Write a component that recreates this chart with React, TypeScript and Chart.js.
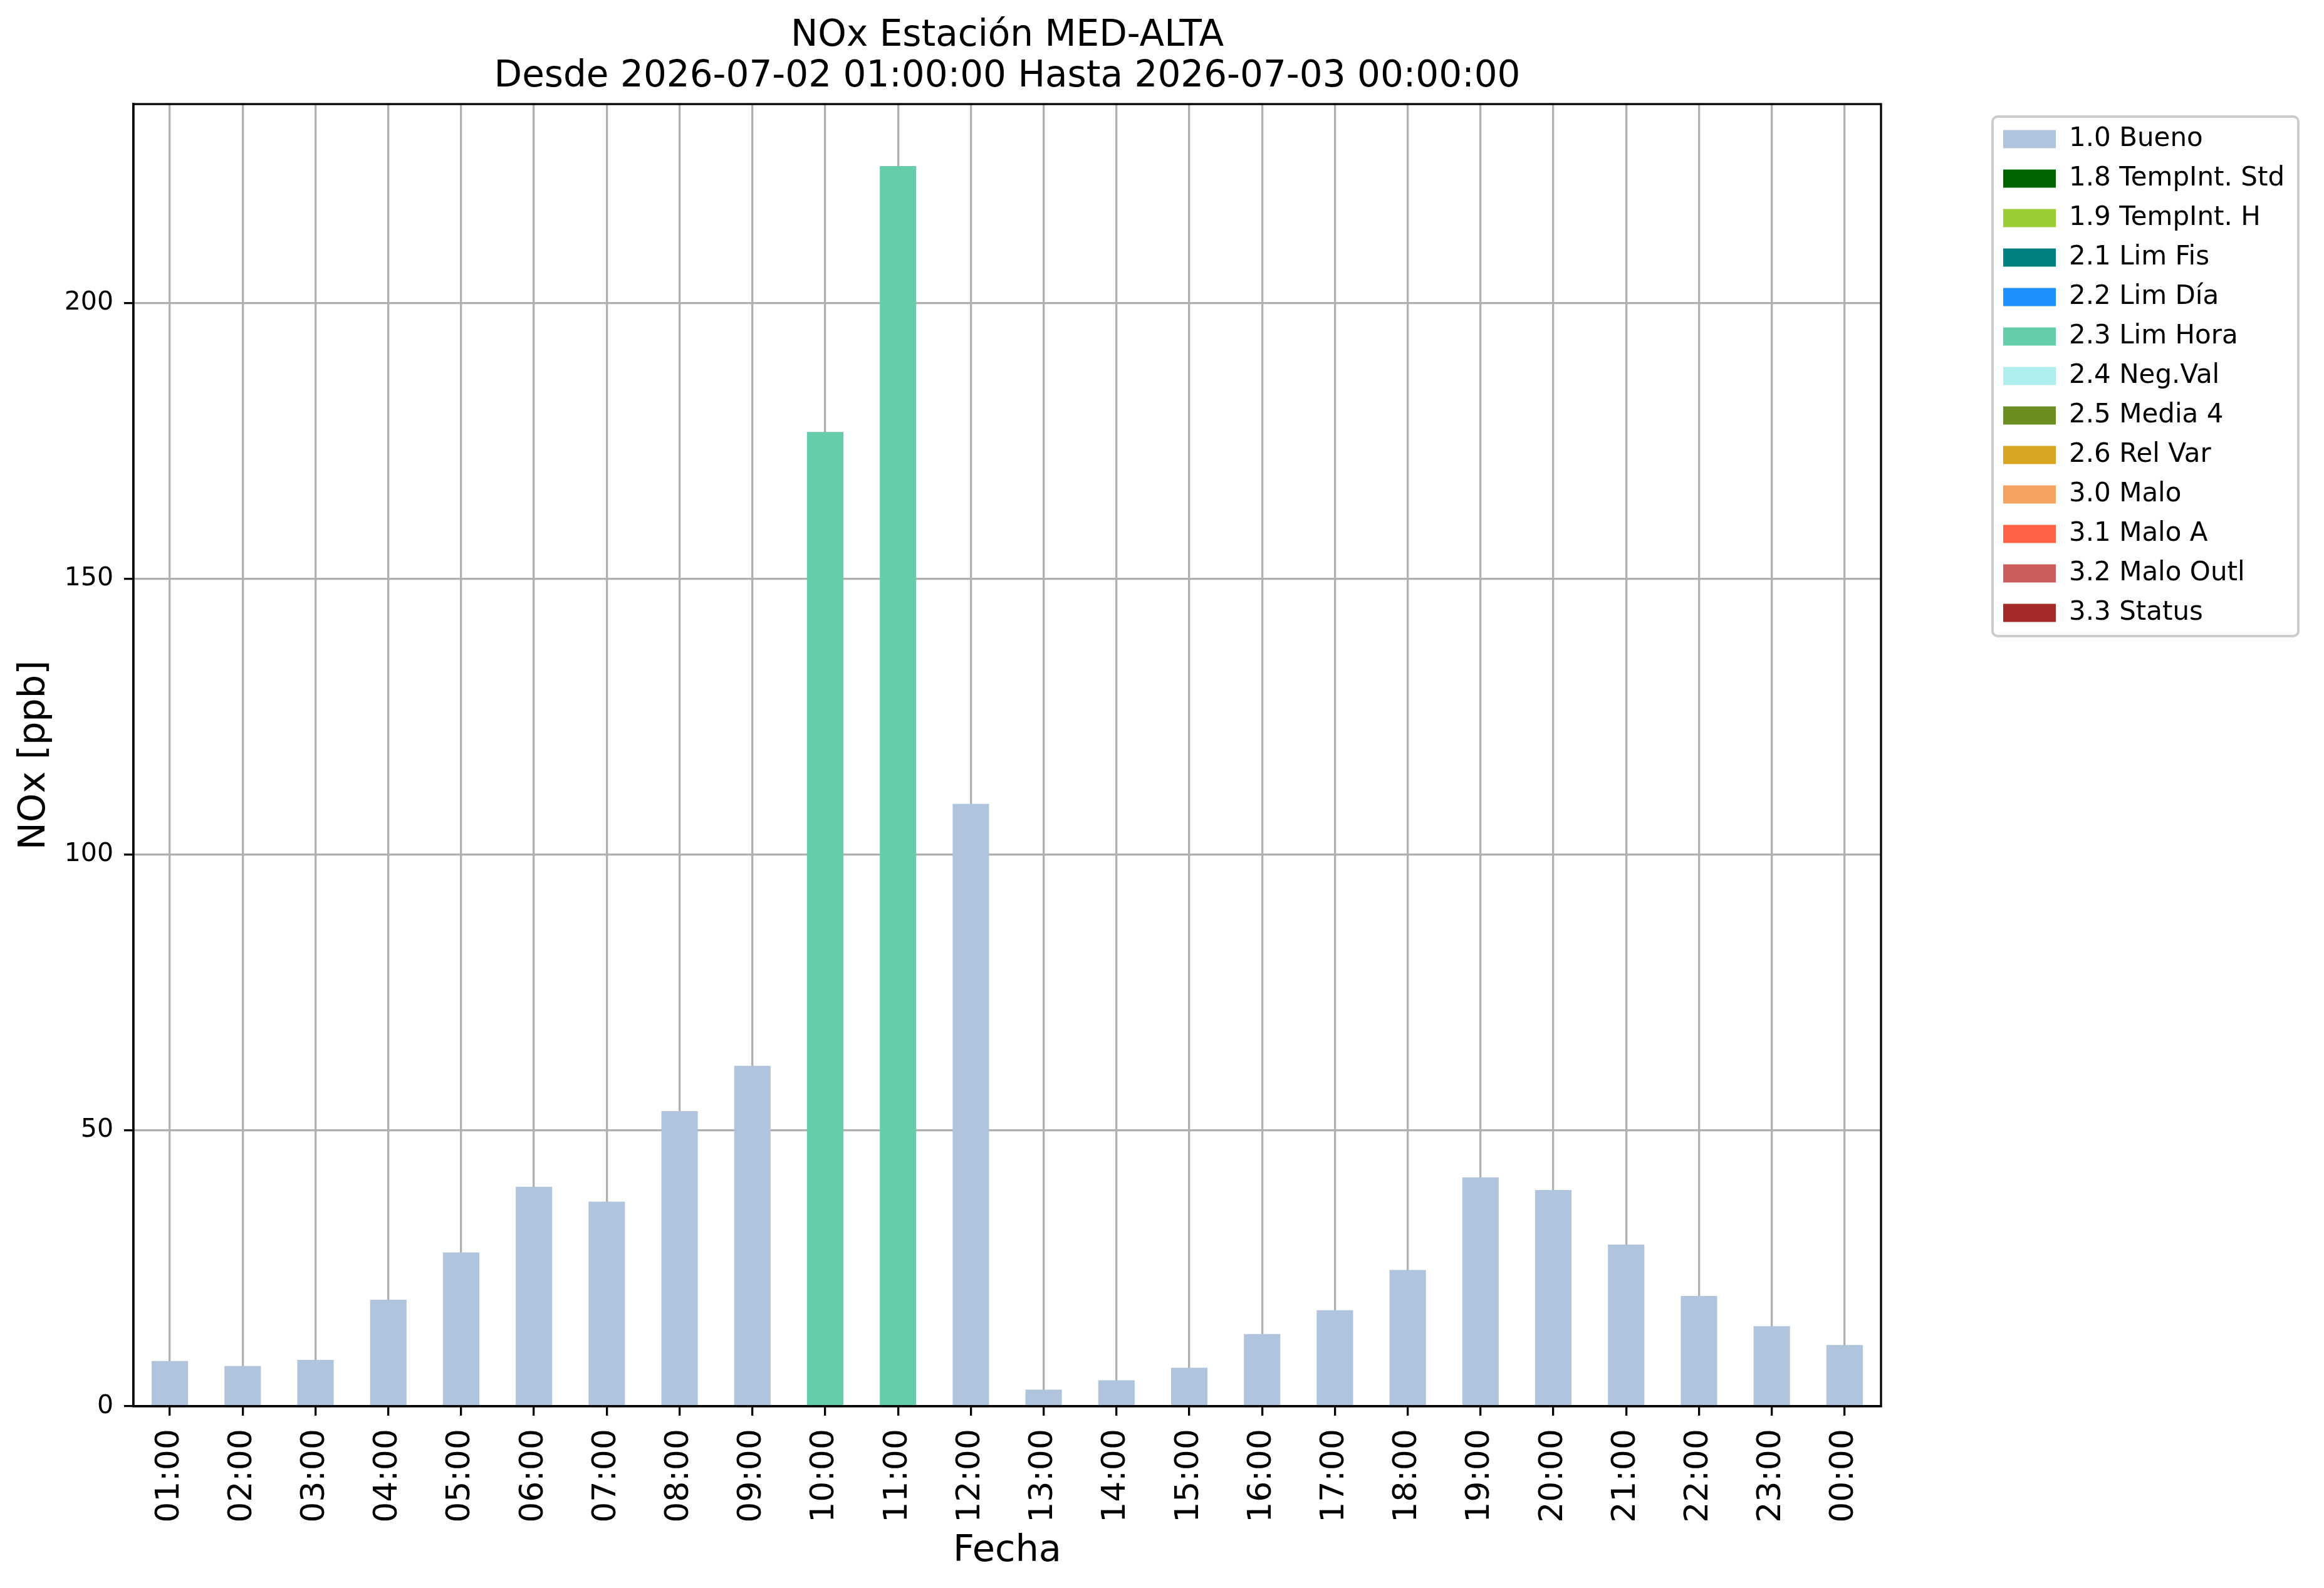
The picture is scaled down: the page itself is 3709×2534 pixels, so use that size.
import { useEffect, useRef } from "react";
import { Chart, registerables } from "chart.js";

Chart.register(...registerables);

const hours = [
  "01:00", "02:00", "03:00", "04:00", "05:00", "06:00", "07:00", "08:00",
  "09:00", "10:00", "11:00", "12:00", "13:00", "14:00", "15:00", "16:00",
  "17:00", "18:00", "19:00", "20:00", "21:00", "22:00", "23:00", "00:00",
];

// NOx hourly means [ppb]
const noxValues = [
  8.2, 7.3, 8.4, 19.3, 27.9, 39.8, 37.1, 53.5,
  61.7, 176.6, 224.8, 109.2, 3.0, 4.7, 7.0, 13.1,
  17.4, 24.7, 41.5, 39.2, 29.3, 20.0, 14.5, 11.1,
];

// validation flag for each hour
const hourFlags = [
  "1.0", "1.0", "1.0", "1.0", "1.0", "1.0", "1.0", "1.0",
  "1.0", "2.3", "2.3", "1.0", "1.0", "1.0", "1.0", "1.0",
  "1.0", "1.0", "1.0", "1.0", "1.0", "1.0", "1.0", "1.0",
];

const flagCodes = ["1.0", "1.8", "1.9", "2.1", "2.2", "2.3", "2.4", "2.5", "2.6", "3.0", "3.1", "3.2", "3.3"];
const flagNames = [
  "1.0 Bueno", "1.8 TempInt. Std", "1.9 TempInt. H", "2.1 Lim Fis", "2.2 Lim Día",
  "2.3 Lim Hora", "2.4 Neg.Val", "2.5 Media 4", "2.6 Rel Var", "3.0 Malo",
  "3.1 Malo A", "3.2 Malo Outl", "3.3 Status",
];
const flagColors = [
  "#b0c4de", "#006400", "#9acd32", "#008080", "#1e90ff", "#66cdaa", "#afeeee",
  "#6b8e23", "#daa520", "#f4a460", "#ff6347", "#cd5c5c", "#a52a2a",
];

const titleLines = [
  "NOx Estación MED-ALTA",
  "Desde 2026-07-02 01:00:00 Hasta 2026-07-03 00:00:00",
];

const W = 3709;
const H = 2534;
const LINE = 3.3;

// spines on all four sides + matplotlib-like legend frame
const framePlugin = {
  id: "mplFrames",
  afterLayout(chart: any) {
    const lg = chart.legend;
    if (!lg) return;
    const w = lg.width;
    const h = lg.height;
    lg.left = 3176;
    lg.top = 180;
    lg.right = lg.left + w;
    lg.bottom = lg.top + h;
  },
  afterDraw(chart: any) {
    const { ctx, chartArea: a } = chart;
    ctx.save();
    ctx.strokeStyle = "#000";
    ctx.lineWidth = LINE;
    ctx.strokeRect(a.left, a.top, a.right - a.left, a.bottom - a.top);

    const boxes = chart.legend?.legendHitBoxes || [];
    if (boxes.length) {
      let l = Infinity, t = Infinity, r = -Infinity, b = -Infinity;
      boxes.forEach((hb: any) => {
        l = Math.min(l, hb.left);
        t = Math.min(t, hb.top);
        r = Math.max(r, hb.left + hb.width);
        b = Math.max(b, hb.top + hb.height);
      });
      l -= 17; t -= 15; r += 22; b += 16;
      const rad = 8;
      ctx.strokeStyle = "#cccccc";
      ctx.lineWidth = 4;
      ctx.beginPath();
      ctx.moveTo(l + rad, t);
      ctx.arcTo(r, t, r, b, rad);
      ctx.arcTo(r, b, l, b, rad);
      ctx.arcTo(l, b, l, t, rad);
      ctx.arcTo(l, t, r, t, rad);
      ctx.closePath();
      ctx.stroke();
    }
    ctx.restore();
  },
};

export default function App() {
  const chartRef = useRef<HTMLCanvasElement>(null);
  const chartInstance = useRef<Chart | null>(null);

  useEffect(() => {
    document.body.style.margin = "0";
    if (!chartRef.current) return;
    if (chartInstance.current) {
      chartInstance.current.destroy();
    }
    const ctx = chartRef.current.getContext("2d");
    if (!ctx) return;

    Chart.defaults.font.family = "'DejaVu Sans'";
    Chart.defaults.color = "#000";

    const datasets = flagCodes.map((code, i) => ({
      label: flagNames[i],
      data: noxValues.map((v, j) => (hourFlags[j] === code ? v : null)),
      backgroundColor: flagColors[i],
      borderWidth: 0,
      barPercentage: 0.5,
      categoryPercentage: 1.0,
    }));

    const yMax = Math.max(...noxValues) * 1.05;

    chartInstance.current = new Chart(ctx, {
      type: "bar",
      data: { labels: hours, datasets },
      plugins: [framePlugin],
      options: {
        responsive: false,
        animation: false,
        devicePixelRatio: 1,
        layout: { padding: { left: 0, right: W - 3002, top: 0, bottom: 0 } },
        plugins: {
          title: {
            display: true,
            text: titleLines,
            fullSize: false,
            color: "#000",
            font: { size: 58, weight: "normal", lineHeight: 1.13 },
            padding: { top: 25, bottom: 10 },
          },
          legend: {
            display: true,
            position: "chartArea",
            align: "start",
            labels: {
              boxWidth: 84,
              boxHeight: 29,
              padding: 21,
              color: "#000",
              font: { size: 42 },
            },
          },
          tooltip: { enabled: false },
        },
        scales: {
          x: {
            stacked: true,
            offset: true,
            z: 1,
            afterFit: (scale: any) => {
              scale.height = H - 2244;
            },
            grid: {
              display: true,
              offset: false,
              color: "#b0b0b0",
              lineWidth: LINE,
              drawTicks: true,
              tickLength: 15,
              tickColor: "#000",
              tickWidth: LINE,
            },
            border: { display: true, color: "#000", width: LINE },
            ticks: {
              autoSkip: false,
              minRotation: 90,
              maxRotation: 90,
              padding: 21,
              color: "#000",
              font: { size: 52 },
            },
            title: {
              display: true,
              text: "Fecha",
              color: "#000",
              font: { size: 59, lineHeight: 1.2 },
              padding: { top: 0, bottom: 23 },
            },
          },
          y: {
            stacked: true,
            min: 0,
            max: yMax,
            z: 1,
            afterFit: (scale: any) => {
              scale.width = 213;
            },
            grid: {
              display: true,
              color: "#b0b0b0",
              lineWidth: LINE,
              drawTicks: true,
              tickLength: 15,
              tickColor: "#000",
              tickWidth: LINE,
            },
            border: { display: true, color: "#000", width: LINE },
            ticks: {
              stepSize: 50,
              includeBounds: false,
              padding: 17,
              color: "#000",
              font: { size: 41 },
            },
            title: {
              display: true,
              text: "NOx [ppb]",
              color: "#000",
              font: { size: 59, lineHeight: 1.2 },
              padding: { top: 20, bottom: 0 },
            },
          },
        },
      },
    } as any);

    return () => {
      if (chartInstance.current) {
        chartInstance.current.destroy();
        chartInstance.current = null;
      }
    };
  }, []);

  return <canvas ref={chartRef} width={W} height={H} style={{ display: "block" }} />;
}
